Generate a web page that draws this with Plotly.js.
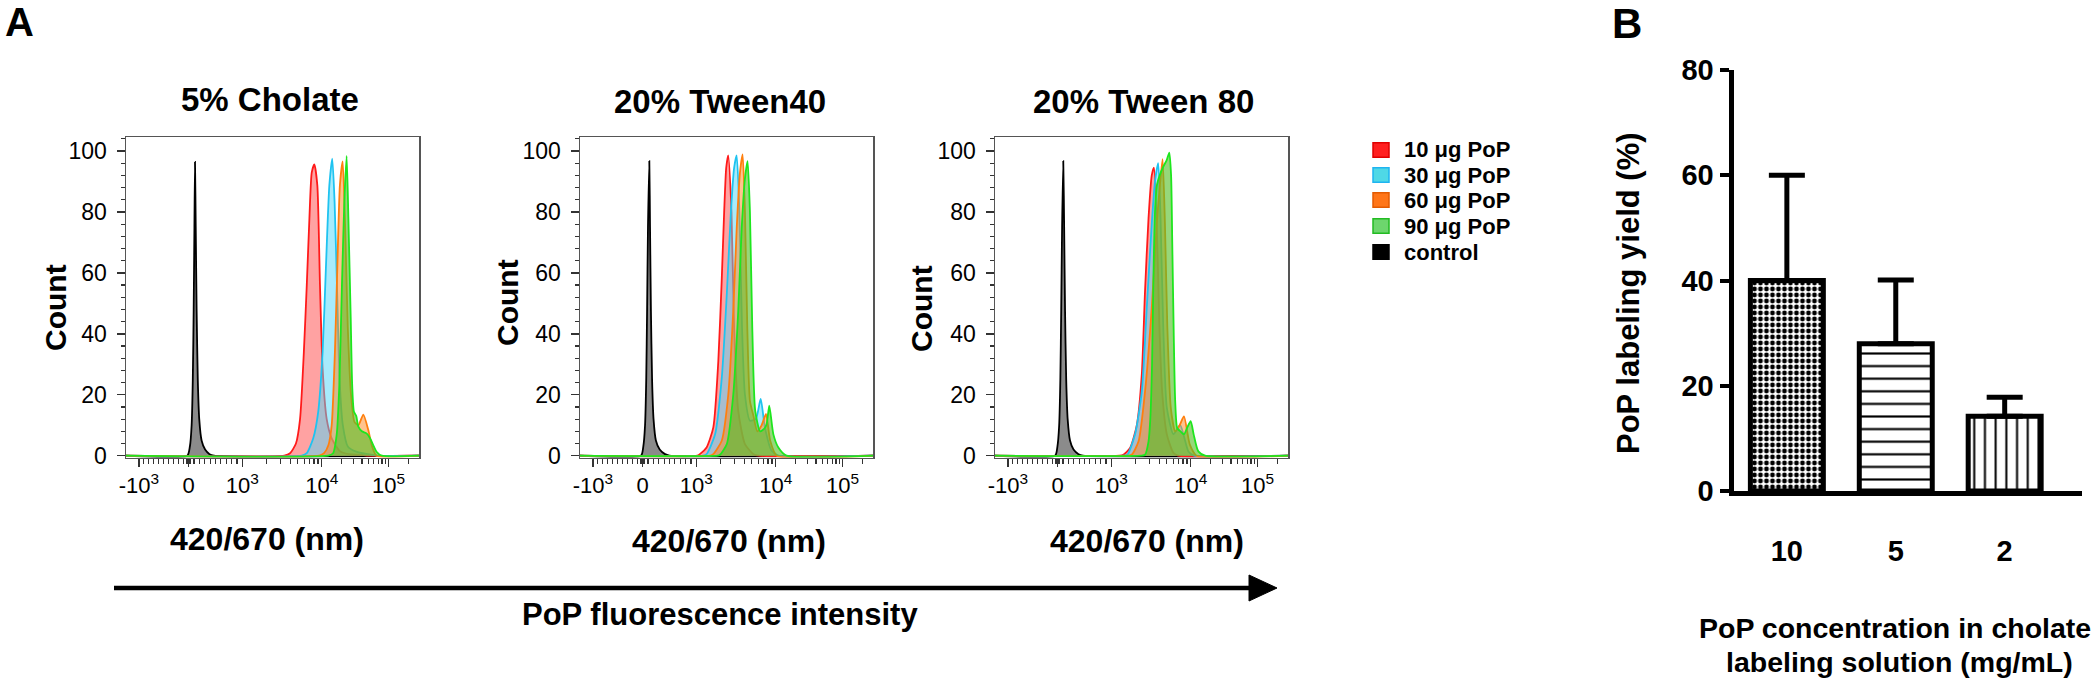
<!DOCTYPE html>
<html>
<head>
<meta charset="utf-8">
<script src="https://cdn.plot.ly/plotly-3.0.1.min.js"></script>
<style>html,body{margin:0;padding:0;background:#fff}#chart{width:2100px;height:681px}</style>
</head>
<body>
<div id="chart"></div>
<script>
const W = 2100, H = 681;
const FONT = "'Liberation Sans', Arial, Helvetica, sans-serif";

// ---------------- Panel A : flow-cytometry histograms ----------------
// x = display channel of the biexponential axis (0..1000 across the plot), y = count (% of mode)
const panelTitles = ['5% Cholate', '20% Tween40', '20% Tween 80'];
const seriesNames = ['control', '10 μg PoP', '30 μg PoP', '60 μg PoP', '90 μg PoP'];

const cholate_control = [[0,0],[209,0],[218,3],[224,10],[228,25],[231,48],[233.5,75],[235.5,96.4],[238,75],[241,48],[245,25],[250,12],[258,5],[270,2],[285,0.5],[300,0],[1000,0]];
const cholate_10ug = [[0,0],[540,0],[560,0.8],[580,4],[594,12],[607,34],[617,56],[626,78],[634,93],[643,95.6],[653,88.7],[662,56],[671,28.6],[685,12],[702,5.7],[730,1.5],[760,0.5],[800,0.3],[830,0],[1000,0]];
const cholate_30ug = [[0,0],[600,0],[617,0.8],[639,5.7],[656,14.4],[671,34],[682,61],[694,88.7],[704,97.5],[712,83],[720,56],[729,25],[740,10],[757,3],[786,1.3],[858,0],[1000,0]];
const cholate_60ug = [[0,0],[660,0],[676,0.8],[691,3.5],[702,10],[713,34],[721,61],[730,88.7],[739.5,96.6],[748,75],[757,42],[768,20],[780,11],[793,10],[810,13.5],[827,8.4],[840,3],[855,0],[1000,0]];
const cholate_90ug = [[0,0],[690,0],[707,0.8],[719,6.8],[728,23],[737,56],[745,83],[753,98.4],[759,78],[767,45],[772,23],[778,14.4],[786,13],[793,9.5],[805,8],[821,7.3],[833,5.7],[855,1.3],[873,0],[1000,0]];

const tween40_control = [[0,0],[208,0],[216,3],[222,10],[226,25],[229,48],[232,75],[236.6,96.7],[239,75],[242,48],[246,25],[251,12],[259,5],[272,2],[290,0.5],[305,0],[1000,0]];
const tween40_10ug = [[0,0],[400,0],[409,0.5],[432,2.7],[455,9.3],[472,31],[484,58.5],[492,80],[499,94.5],[506,98.6],[517,80],[526,42],[540,14.8],[563,3.8],[592,0.5],[610,0],[1000,0]];
const tween40_30ug = [[0,0],[420,0],[432,0.5],[461,7],[484,25.7],[501,53],[515,80],[526,94.5],[534.7,98.6],[544,80],[553,42],[563,20],[580,11.5],[600,12],[616.6,18.6],[631,9.3],[654,1.6],[677,0],[1000,0]];
const tween40_60ug = [[0,0],[445,0],[455,0.5],[484,5],[506,20],[523,47.5],[535,75],[546,93],[555,98.9],[563,80],[571,42],[580,18],[592,13],[605,8],[620,10],[634.8,13.7],[649,5],[672,0],[1000,0]];
const tween40_90ug = [[0,0],[470,0],[478,0.3],[501,3.8],[523,20],[540,47.5],[552,75],[563,91],[572,96.7],[580,80],[588,42],[598,14.8],[615,8],[630,9],[637,10.4],[646,16.4],[660,7],[677,2.7],[705,0],[1000,0]];

const tween80_control = [[0,0],[205,0],[213,3],[219,10],[223,25],[226,48],[229,75],[233,96.7],[236,75],[239,48],[243,25],[248,12],[256,5],[268,2],[285,0.5],[300,0],[1000,0]];
const tween80_10ug = [[0,0],[425,0],[438,0.3],[461,2.5],[484,10],[501,26.6],[512,54],[524,78],[535,92],[542.7,94.5],[552,76],[561,43],[570.5,21],[586.5,7],[609,0.9],[625,0],[1000,0]];
const tween80_30ug = [[0,0],[440,0],[452,0.3],[478,7],[501,21],[518,48.5],[535,76],[546,90],[557,96],[565,78],[574,43],[586.5,15.7],[609,7],[632,10],[660,1.4],[680,0],[1000,0]];
const tween80_60ug = [[0,0],[455,0],[467,0.3],[490,4.7],[512,21],[535,48.5],[552,76],[563,89],[572,97.3],[580,76],[588,43],[600,15.7],[615,8],[630,10],[645,12.9],[665,3.6],[688,0],[1000,0]];
const tween80_90ug = [[0,0],[500,0],[512,0.3],[524,4.7],[530,12],[536,30],[541,60],[546,80],[553,89],[562,92],[575,95],[586,97],[595,99.5],[601,92],[605,70],[610,40],[615,18],[622,9],[633,8],[645,7],[655,9],[668,11.3],[678,7],[694,1.4],[717,0],[1000,0]];

// biexponential display axis: intensity value -> display channel
const channelAnchors = [[-1000,44],[0,214],[1000,397],[10000,668],[100000,896]];
const xTickValues = [-1000, 0, 1000, 10000, 100000];
const xTickLabels = ['-10<sup>3</sup>', '0', '10<sup>3</sup>', '10<sup>4</sup>', '10<sup>5</sup>'];
const countTicks = [0, 20, 40, 60, 80, 100];

// ---------------- Panel B : labeling yield ----------------
const concCategories = ['10', '5', '2'];
const yieldMean = [40, 28, 14.2];
const yieldErr = [20, 12.1, 3.6];
const yieldTicks = [0, 20, 40, 60, 80];

// ---------------- helpers ----------------
function toChannel(v) {
  const a = channelAnchors;
  if (v <= 0) return a[1][1] + (v / 1000) * (a[1][1] - a[0][1]);
  if (v <= 1000) return a[1][1] + (v / 1000) * (a[2][1] - a[1][1]);
  const lg = Math.log10(v);
  if (lg <= 4) return a[2][1] + (lg - 3) * (a[3][1] - a[2][1]);
  return a[3][1] + (lg - 4) * (a[4][1] - a[3][1]);
}
const minorTickValues = [];
for (let k = -900; k <= -100; k += 100) minorTickValues.push(k);
minorTickValues.push(-40, -15, 15, 40);
for (let k = 100; k <= 900; k += 100) minorTickValues.push(k);
for (let k = 2; k <= 9; k++) minorTickValues.push(k * 1000);
for (let k = 2; k <= 9; k++) minorTickValues.push(k * 10000);
minorTickValues.push(200000);

const PX = x => x / W;
const PY = y => 1 - y / H;

const seriesStyle = [
  {line: '#000000', fill: 'rgba(110,110,110,0.8)'},
  {line: '#ff1a1a', fill: 'rgba(255,70,70,0.5)'},
  {line: '#1fc3f0', fill: 'rgba(80,215,250,0.5)'},
  {line: '#ff7f0e', fill: 'rgba(255,135,30,0.5)'},
  {line: '#1ee61e', fill: 'rgba(85,190,40,0.62)'}
];

const panelData = [
  [cholate_control, cholate_10ug, cholate_30ug, cholate_60ug, cholate_90ug],
  [tween40_control, tween40_10ug, tween40_30ug, tween40_60ug, tween40_90ug],
  [tween80_control, tween80_10ug, tween80_30ug, tween80_60ug, tween80_90ug]
];
const panelLeftPx = [126, 580, 995];
const panelWidthPx = 293;
const histTopPx = 137, histBottomPx = 457.5;

const traces = [];
panelData.forEach((series, p) => {
  const xa = p === 0 ? 'x' : 'x' + (p + 1);
  const ya = p === 0 ? 'y' : 'y' + (p + 1);
  series.forEach((pts, s) => {
    traces.push({
      type: 'scatter', mode: 'lines', name: seriesNames[s],
      x: pts.map(d => d[0]), y: pts.map(d => d[1]),
      xaxis: xa, yaxis: ya,
      line: {color: seriesStyle[s].line, width: 1.8, shape: 'spline', smoothing: 0.6},
      fill: 'tozeroy', fillcolor: seriesStyle[s].fill,
      hoverinfo: 'skip', showlegend: false
    });
  });
});

traces.push({
  type: 'bar', x: concCategories, y: yieldMean, xaxis: 'x4', yaxis: 'y4', width: 0.67,
  marker: {
    color: 'white', line: {color: 'black', width: 5},
    pattern: {shape: ['.', '-', '|'], size: [6, 12.6, 10.7], solidity: [0.5, 0.17, 0.19],
              fgcolor: 'black', bgcolor: 'white', fillmode: 'replace'}
  },
  error_y: {type: 'data', symmetric: false, array: yieldErr, arrayminus: [0, 0, 0],
            color: 'black', thickness: 5, width: 18},
  showlegend: false, hoverinfo: 'skip'
});

function histX(p) {
  return {
    domain: [PX(panelLeftPx[p]), PX(panelLeftPx[p] + panelWidthPx)],
    anchor: p === 0 ? 'y' : 'y' + (p + 1),
    range: [0, 1000], tickmode: 'array',
    tickvals: xTickValues.map(toChannel), ticktext: xTickLabels,
    ticks: 'outside', ticklen: 8, tickwidth: 1.5, tickcolor: '#333',
    minor: {tickmode: 'array', tickvals: minorTickValues.map(toChannel), ticks: 'outside',
            ticklen: 5, tickwidth: 1.2, tickcolor: '#333', showgrid: false},
    showline: true, mirror: true, linecolor: '#555', linewidth: 1.5,
    showgrid: false, zeroline: false, automargin: false, fixedrange: true,
    tickfont: {family: FONT, size: 22, color: '#000'}
  };
}
function histY(p) {
  return {
    domain: [PY(histBottomPx), PY(histTopPx)],
    anchor: p === 0 ? 'x' : 'x' + (p + 1),
    range: [-0.6, 104.6], tickmode: 'array', tickvals: countTicks,
    ticks: 'outside', ticklen: 8, tickwidth: 1.5, tickcolor: '#333',
    minor: {tickmode: 'linear', tick0: 0, dtick: 4, ticks: 'outside', ticklen: 4,
            tickwidth: 1.2, tickcolor: '#333', showgrid: false},
    showline: true, mirror: true, linecolor: '#555', linewidth: 1.5,
    showgrid: false, zeroline: false, automargin: false, fixedrange: true,
    ticklabelstandoff: 5,
    tickfont: {family: FONT, size: 23, color: '#000'}
  };
}

function txt(s, x, y, size, extra) {
  return Object.assign({
    text: s, xref: 'paper', yref: 'paper', x: PX(x), y: PY(y),
    xanchor: 'center', yanchor: 'middle', showarrow: false,
    font: {family: FONT, size: size, color: '#000', weight: 700}
  }, extra || {});
}

const annotations = [
  txt('A', 19, 22, 40),
  txt('B', 1627, 23, 42),
  txt(panelTitles[0], 270, 99, 33),
  txt(panelTitles[1], 720, 101, 33),
  txt(panelTitles[2], 1143, 101, 33),
  txt('420/670 (nm)', 267, 539, 32),
  txt('420/670 (nm)', 729, 541, 32),
  txt('420/670 (nm)', 1147, 541, 32),
  txt('Count', 55, 308, 30, {textangle: -90}),
  txt('Count', 507, 303, 30, {textangle: -90}),
  txt('Count', 921, 309, 30, {textangle: -90}),
  txt('PoP fluorescence intensity', 720, 614, 31),
  txt('PoP labeling yield (%)', 1628, 293, 31, {textangle: -90}),
  txt('PoP concentration in cholate', 1895, 628, 28.5),
  txt('labeling solution (mg/mL)', 1899, 662, 28.5)
];

// legend (order as in the reference)
const legendOrder = [1, 2, 3, 4, 0];
const legendSwatch = [
  {fill: '#000000', edge: '#000000'},
  {fill: '#ff2020', edge: '#e00000'},
  {fill: '#4fd8e6', edge: '#1eb4f0'},
  {fill: '#ff7518', edge: '#e35a00'},
  {fill: '#6dd66d', edge: '#22bb22'}
];
const legendRowsPx = [150, 175, 200, 226, 252];
const shapes = [];
legendOrder.forEach((s, i) => {
  const yc = legendRowsPx[i];
  shapes.push({type: 'rect', xref: 'paper', yref: 'paper',
    x0: PX(1373), x1: PX(1389), y0: PY(yc + 7.3), y1: PY(yc - 7.3),
    fillcolor: legendSwatch[s].fill, line: {color: legendSwatch[s].edge, width: 1.5}});
  annotations.push(txt(seriesNames[s], 1402, yc, 22, {xanchor: 'left'}));
});

// arrow under panel A
shapes.push({type: 'line', xref: 'paper', yref: 'paper', x0: PX(114), x1: PX(1252), y0: PY(588), y1: PY(588),
  line: {color: '#000', width: 4.3}});
shapes.push({type: 'path', xref: 'paper', yref: 'paper',
  path: 'M ' + PX(1249) + ',' + PY(575) + ' L ' + PX(1277) + ',' + PY(588) + ' L ' + PX(1249) + ',' + PY(601) + ' Z',
  fillcolor: '#000', line: {color: '#000', width: 1}});

const layout = {
  width: W, height: H, margin: {l: 0, r: 0, t: 0, b: 0},
  paper_bgcolor: 'white', plot_bgcolor: 'white', showlegend: false,
  font: {family: FONT, color: '#000'},
  xaxis: histX(0), yaxis: histY(0),
  xaxis2: histX(1), yaxis2: histY(1),
  xaxis3: histX(2), yaxis3: histY(2),
  xaxis4: {
    domain: [PX(1733.5), PX(2082)], anchor: 'y4', type: 'category', range: [-0.49, 2.71],
    showline: true, linecolor: '#000', linewidth: 5, ticks: '', showgrid: false, zeroline: false,
    tickfont: {family: FONT, size: 29, color: '#000', weight: 700}, ticklabelstandoff: 30,
    automargin: false, fixedrange: true
  },
  yaxis4: {
    domain: [PY(491), PY(70)], anchor: 'x4', range: [0, 80], tickmode: 'array', tickvals: yieldTicks,
    showline: true, linecolor: '#000', linewidth: 5, ticks: 'outside', ticklen: 9, tickwidth: 4,
    tickcolor: '#000', showgrid: false, zeroline: false,
    tickfont: {family: FONT, size: 29, color: '#000', weight: 700},
    automargin: false, fixedrange: true
  },
  annotations: annotations,
  shapes: shapes
};

Plotly.newPlot('chart', traces, layout, {staticPlot: true, displayModeBar: false});
</script>
</body>
</html>
